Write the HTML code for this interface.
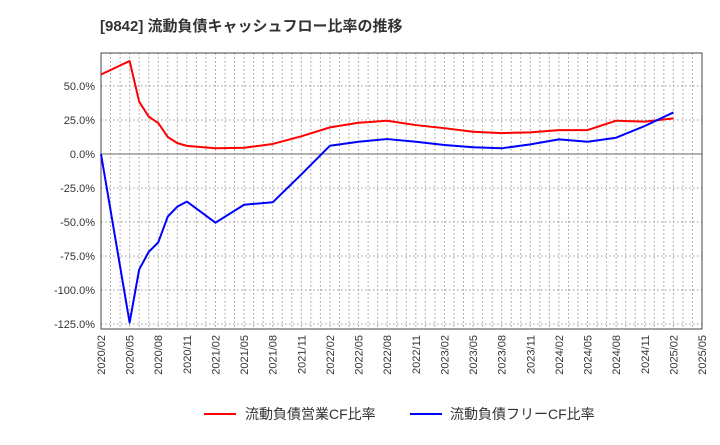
<!DOCTYPE html>
<html><head><meta charset="utf-8"><style>
body{margin:0;background:#fff;}
svg text{font-family:"Liberation Sans","Noto Sans CJK JP",sans-serif;}
</style></head><body>
<svg id="chart" width="720" height="440" xmlns="http://www.w3.org/2000/svg">
<text x="100" y="31" font-size="15" font-weight="bold" fill="#333">[9842]  流動負債キャッシュフロー比率の推移</text>
<g id="grid"></g>
<g id="axes"></g>
<g id="series"></g>
<g>
<line x1="204" y1="414" x2="236" y2="414" stroke="#f00" stroke-width="2"/>
<text x="245" y="419" font-size="14" fill="#333">流動負債営業CF比率</text>
<line x1="410" y1="414" x2="442" y2="414" stroke="#00f" stroke-width="2"/>
<text x="450" y="419" font-size="14" fill="#333">流動負債フリーCF比率</text>
</g>
</svg>
<script>
const xTickLabels=["2020/02","2020/05","2020/08","2020/11","2021/02","2021/05","2021/08","2021/11","2022/02","2022/05","2022/08","2022/11","2023/02","2023/05","2023/08","2023/11","2024/02","2024/05","2024/08","2024/11","2025/02","2025/05"];
const yTicks=[50,25,0,-25,-50,-75,-100,-125];
const redMonths=[0,3,4,5,6,7,8,9,12,15,18,21,24,27,30,33,36,39,42,45,48,51,54,57,60];
const redValues=[58.5,68.4,38.5,27.5,22.8,12.5,8,6,4.2,4.6,7.4,13,19.6,23,24.5,21.3,19,16.4,15.4,15.9,17.6,17.6,24.5,23.8,26.2];
const blueMonths=[0,3,4,5,6,7,8,9,12,15,18,21,24,27,30,33,36,39,42,45,48,51,54,57,60];
const blueValues=[0,-124,-85,-72,-65,-46,-38.7,-35,-50.5,-37.3,-35.5,-15,6.1,9,11,9,6.6,5,4.2,7.1,10.8,9,12,20.6,30.6];
const L=101,R=702,T=53,B=329,yMax=74.3,yMin=-128.7,nMonths=63;
const X=m=>L+(R-L)*m/nMonths;
const Y=v=>T+(yMax-v)/(yMax-yMin)*(B-T);
const NS="http://www.w3.org/2000/svg";
function mk(tag,attrs,parent){const e=document.createElementNS(NS,tag);for(const k in attrs)e.setAttribute(k,attrs[k]);parent.appendChild(e);return e;}
const grid=document.getElementById('grid'),axes=document.getElementById('axes'),series=document.getElementById('series');
for(let m=1;m<nMonths;m++){const l=mk('line',{x1:X(m),x2:X(m),y1:T,y2:B,stroke:'#999','stroke-width':1,'stroke-dasharray':'1.5,2.5'},grid);

}
yTicks.forEach(v=>{const l=mk('line',{x1:L,x2:R,y1:Y(v),y2:Y(v),stroke:v===0?'#666':'#999','stroke-width':1,'stroke-dasharray':v===0?'none':'1.5,2.5'},grid);


const t=mk('text',{x:L-6,y:Y(v)+4,'font-size':11,'text-anchor':'end',fill:'#333'},axes);
t.textContent=v.toFixed(1)+'%';

});
xTickLabels.forEach((s,i)=>{const x=X(i*3);const t=mk('text',{x:0,y:0,'font-size':11,'text-anchor':'end',fill:'#333',transform:`translate(${x+4},${B+6}) rotate(-90)`},axes);
t.textContent=s;

});
const frame=mk('rect',{x:L,y:T,width:R-L,height:B-T,fill:'none',stroke:'#444','stroke-width':1},axes);


function line(ms,vs,color,name){const p=mk('polyline',{points:ms.map((m,i)=>X(m)+','+Y(vs[i])).join(' '),fill:'none',stroke:color,'stroke-width':2,'stroke-linejoin':'round'},series);

}
line(redMonths,redValues,'#f00','operating-cf-ratio-line');
line(blueMonths,blueValues,'#00f','free-cf-ratio-line');
</script>
</body></html>
